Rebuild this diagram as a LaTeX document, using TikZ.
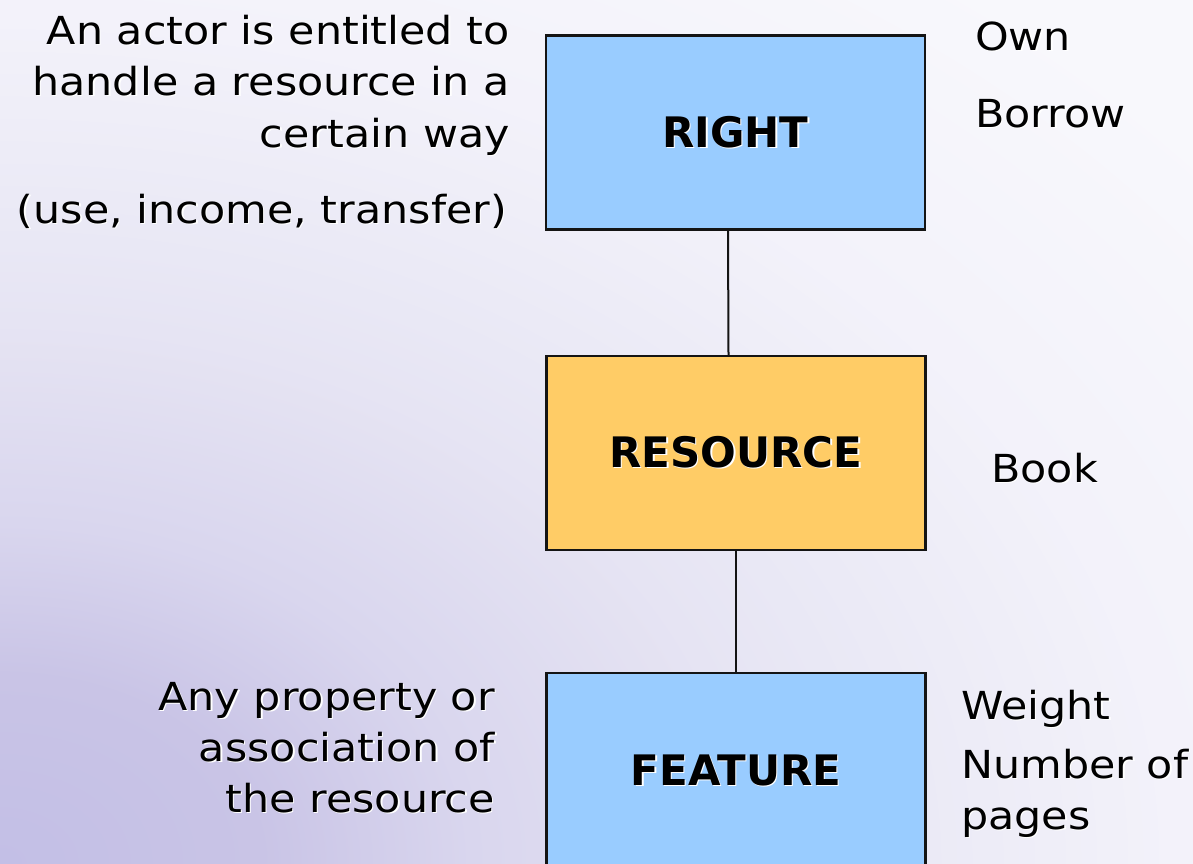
\documentclass[tikz,border=0pt]{standalone}
\usepackage{fontspec}
\setmainfont{DejaVu Sans}[FakeStretch=1.11]
\newfontfamily\boxfont{DejaVu Sans}
\usetikzlibrary{calc}

\definecolor{skyfill}{HTML}{99CCFF}
\definecolor{goldfill}{HTML}{FFCC66}
\definecolor{edge}{HTML}{141414}

% soft lilac glow spreading from the lower left corner (radius in bp)
\pgfdeclareradialshading{slideglow}{\pgfpoint{0bp}{0bp}}{%
  color(0bp)=(rgb,255:red,195;green,191;blue,230);
  color(260bp)=(rgb,255:red,201;green,196;blue,230);
  color(470bp)=(rgb,255:red,217;green,214;blue,238);
  color(750bp)=(rgb,255:red,230;green,228;blue,243);
  color(860bp)=(rgb,255:red,233;green,232;blue,245);
  color(1170bp)=(rgb,255:red,243;green,242;blue,250);
  color(1560bp)=(rgb,255:red,248;green,248;blue,252);
  color(1950bp)=(rgb,255:red,248;green,248;blue,252)}

% text with a faint white drop shadow
\newcommand{\shd}[1]{\makebox[0pt][l]{\hspace{1.3pt}\raisebox{-1.3pt}{\color{white}#1}}#1}

\tikzset{
  concept/.style={draw=edge, line width=2.4pt, rectangle, inner sep=0pt,
    minimum width=379pt, minimum height=194pt,
    font=\boxfont\fontsize{42}{50}\selectfont\bfseries},
  note/.style={inner sep=0pt, font=\fontsize{38.6}{51.5}\selectfont},
  noteR/.style={note, anchor=base east},
  noteL/.style={note, anchor=base west},
  link/.style={draw=edge, line width=2pt},
}

\begin{document}
\begin{tikzpicture}[x=1pt, y=-1pt]
  \useasboundingbox (0,0) rectangle (1193,863);
  \begin{scope}
    \clip (0,0) rectangle (1193,863);
    % flattened glow, wider than tall
    \begin{scope}[shift={(0,863)}, yscale=0.72]
      \node[inner sep=0pt, outer sep=0pt, transform shape] (glow) at (0,0) {\pgfuseshading{slideglow}};
    \end{scope}

    % concept boxes
    \node[concept, fill=skyfill]  (right)    at (735.5,132.5) {\shd{RIGHT}};
    \node[concept, fill=goldfill] (resource) at (736,453)     {\shd{RESOURCE}};
    \node[concept, fill=skyfill, minimum height=196pt] (feature) at (736,771) {\shd{FEATURE}};

    % links between the boxes
    \draw[link] ([xshift=-7.5pt]right.south) -- ([xshift=-7.5pt]resource.north);
    \draw[link] (resource.south) -- (feature.north);
  \end{scope}

  % description of a right
  \node[noteR] (rd1) at (510,44)   {\shd{An actor is entitled to}};
  \node[noteR] (rd2) at (510,95.5) {\shd{handle a resource in a}};
  \node[noteR] (rd3) at (510,147)  {\shd{certain way}};
  \node[noteR] (rd4) at (507,223)  {\shd{(use, income, transfer)}};

  % examples of rights
  \node[noteL] (own)    at (975,50)  {\shd{Own}};
  \node[noteL] (borrow) at (975,127) {\shd{Borrow}};

  % example of a resource
  \node[noteL] (book) at (991,482) {\shd{Book}};

  % description of a feature
  \node[noteR] (fd1) at (495,710) {\shd{Any property or}};
  \node[noteR] (fd2) at (495,761) {\shd{association of}};
  \node[noteR] (fd3) at (495,812) {\shd{the resource}};

  % examples of features
  \node[noteL] (weight) at (961,719) {\shd{Weight}};
  \node[noteL] (num1)   at (961,778) {\shd{Number of}};
  \node[noteL] (num2)   at (961,829) {\shd{pages}};
\end{tikzpicture}
\end{document}
